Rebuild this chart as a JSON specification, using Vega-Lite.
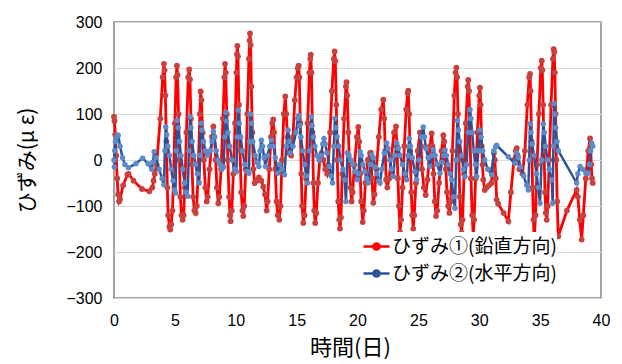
{
"$schema":"https://vega.github.io/schema/vega-lite/v6.json",
"width":487,"height":276,"autosize":"none",
"padding":{"left":114,"top":22,"right":21,"bottom":66},
"background":"white",
"config":{"view":{"stroke":"#868686","strokeWidth":1.5},"font":"Liberation Sans"},
"data":{"values":[
{"series":"鉛直","day":0,"strain":94},{"series":"鉛直","day":0.04,"strain":85},{"series":"鉛直","day":0.1,"strain":55},{"series":"鉛直","day":0.18,"strain":10},{"series":"鉛直","day":0.26,"strain":-40},{"series":"鉛直","day":0.34,"strain":-75},{"series":"鉛直","day":0.42,"strain":-90},{"series":"鉛直","day":0.5,"strain":-85},{"series":"鉛直","day":0.75,"strain":-55},{"series":"鉛直","day":1.1,"strain":-32},{"series":"鉛直","day":1.2,"strain":-30},{"series":"鉛直","day":1.6,"strain":-45},{"series":"鉛直","day":2.3,"strain":-63},{"series":"鉛直","day":2.9,"strain":-68},{"series":"鉛直","day":3.15,"strain":-60},{"series":"鉛直","day":3.25,"strain":-45},{"series":"鉛直","day":3.35,"strain":-30},{"series":"鉛直","day":3.5,"strain":-10},{"series":"鉛直","day":3.8,"strain":90},{"series":"鉛直","day":4.0,"strain":180},{"series":"鉛直","day":4.1,"strain":209},{"series":"鉛直","day":4.15,"strain":195},{"series":"鉛直","day":4.22,"strain":140},{"series":"鉛直","day":4.3,"strain":40},{"series":"鉛直","day":4.38,"strain":-60},{"series":"鉛直","day":4.45,"strain":-120},{"series":"鉛直","day":4.55,"strain":-145},{"series":"鉛直","day":4.62,"strain":-151},{"series":"鉛直","day":4.7,"strain":-140},{"series":"鉛直","day":4.8,"strain":-110},{"series":"鉛直","day":4.9,"strain":-30},{"series":"鉛直","day":5.0,"strain":80},{"series":"鉛直","day":5.1,"strain":180},{"series":"鉛直","day":5.17,"strain":205},{"series":"鉛直","day":5.22,"strain":185},{"series":"鉛直","day":5.3,"strain":100},{"series":"鉛直","day":5.38,"strain":0},{"series":"鉛直","day":5.45,"strain":-80},{"series":"鉛直","day":5.55,"strain":-120},{"series":"鉛直","day":5.64,"strain":-130},{"series":"鉛直","day":5.72,"strain":-120},{"series":"鉛直","day":5.82,"strain":-60},{"series":"鉛直","day":5.95,"strain":60},{"series":"鉛直","day":6.1,"strain":180},{"series":"鉛直","day":6.18,"strain":197},{"series":"鉛直","day":6.24,"strain":175},{"series":"鉛直","day":6.32,"strain":90},{"series":"鉛直","day":6.4,"strain":-10},{"series":"鉛直","day":6.5,"strain":-80},{"series":"鉛直","day":6.6,"strain":-110},{"series":"鉛直","day":6.71,"strain":-115},{"series":"鉛直","day":6.8,"strain":-100},{"series":"鉛直","day":6.92,"strain":-20},{"series":"鉛直","day":7.05,"strain":100},{"series":"鉛直","day":7.12,"strain":149},{"series":"鉛直","day":7.18,"strain":130},{"series":"鉛直","day":7.28,"strain":60},{"series":"鉛直","day":7.38,"strain":0},{"series":"鉛直","day":7.5,"strain":-60},{"series":"鉛直","day":7.61,"strain":-90},{"series":"鉛直","day":7.7,"strain":-80},{"series":"鉛直","day":7.85,"strain":-20},{"series":"鉛直","day":8.05,"strain":50},{"series":"鉛直","day":8.16,"strain":73},{"series":"鉛直","day":8.25,"strain":50},{"series":"鉛直","day":8.35,"strain":0},{"series":"鉛直","day":8.45,"strain":-60},{"series":"鉛直","day":8.57,"strain":-94},{"series":"鉛直","day":8.65,"strain":-80},{"series":"鉛直","day":8.8,"strain":-20},{"series":"鉛直","day":8.95,"strain":90},{"series":"鉛直","day":9.07,"strain":180},{"series":"鉛直","day":9.12,"strain":209},{"series":"鉛直","day":9.18,"strain":190},{"series":"鉛直","day":9.26,"strain":100},{"series":"鉛直","day":9.35,"strain":0},{"series":"鉛直","day":9.45,"strain":-80},{"series":"鉛直","day":9.52,"strain":-120},{"series":"鉛直","day":9.58,"strain":-133},{"series":"鉛直","day":9.68,"strain":-110},{"series":"鉛直","day":9.8,"strain":-30},{"series":"鉛直","day":9.95,"strain":80},{"series":"鉛直","day":10.05,"strain":190},{"series":"鉛直","day":10.1,"strain":230},{"series":"鉛直","day":10.13,"strain":248},{"series":"鉛直","day":10.18,"strain":225},{"series":"鉛直","day":10.26,"strain":120},{"series":"鉛直","day":10.35,"strain":20},{"series":"鉛直","day":10.45,"strain":-70},{"series":"鉛直","day":10.55,"strain":-110},{"series":"鉛直","day":10.62,"strain":-122},{"series":"鉛直","day":10.7,"strain":-100},{"series":"鉛直","day":10.82,"strain":-20},{"series":"鉛直","day":10.95,"strain":100},{"series":"鉛直","day":11.08,"strain":220},{"series":"鉛直","day":11.14,"strain":260},{"series":"鉛直","day":11.17,"strain":275},{"series":"鉛直","day":11.22,"strain":250},{"series":"鉛直","day":11.28,"strain":160},{"series":"鉛直","day":11.36,"strain":60},{"series":"鉛直","day":11.45,"strain":-20},{"series":"鉛直","day":11.55,"strain":-50},{"series":"鉛直","day":11.72,"strain":-45},{"series":"鉛直","day":11.9,"strain":-38},{"series":"鉛直","day":12.1,"strain":-45},{"series":"鉛直","day":12.26,"strain":-58},{"series":"鉛直","day":12.4,"strain":-75},{"series":"鉛直","day":12.54,"strain":-110},{"series":"鉛直","day":12.62,"strain":-90},{"series":"鉛直","day":12.75,"strain":-20},{"series":"鉛直","day":12.9,"strain":50},{"series":"鉛直","day":13.0,"strain":80},{"series":"鉛直","day":13.08,"strain":88},{"series":"鉛直","day":13.15,"strain":60},{"series":"鉛直","day":13.25,"strain":-20},{"series":"鉛直","day":13.35,"strain":-90},{"series":"鉛直","day":13.45,"strain":-120},{"series":"鉛直","day":13.58,"strain":-130},{"series":"鉛直","day":13.68,"strain":-100},{"series":"鉛直","day":13.8,"strain":0},{"series":"鉛直","day":13.95,"strain":100},{"series":"鉛直","day":14.07,"strain":138},{"series":"鉛直","day":14.15,"strain":100},{"series":"鉛直","day":14.25,"strain":50},{"series":"鉛直","day":14.4,"strain":15},{"series":"鉛直","day":14.55,"strain":10},{"series":"鉛直","day":14.7,"strain":50},{"series":"鉛直","day":14.85,"strain":130},{"series":"鉛直","day":15.0,"strain":180},{"series":"鉛直","day":15.1,"strain":200},{"series":"鉛直","day":15.17,"strain":205},{"series":"鉛直","day":15.22,"strain":180},{"series":"鉛直","day":15.3,"strain":80},{"series":"鉛直","day":15.38,"strain":-30},{"series":"鉛直","day":15.45,"strain":-100},{"series":"鉛直","day":15.55,"strain":-137},{"series":"鉛直","day":15.65,"strain":-120},{"series":"鉛直","day":15.78,"strain":-40},{"series":"鉛直","day":15.9,"strain":80},{"series":"鉛直","day":16.05,"strain":190},{"series":"鉛直","day":16.12,"strain":220},{"series":"鉛直","day":16.16,"strain":229},{"series":"鉛直","day":16.22,"strain":190},{"series":"鉛直","day":16.3,"strain":60},{"series":"鉛直","day":16.38,"strain":-50},{"series":"鉛直","day":16.45,"strain":-110},{"series":"鉛直","day":16.53,"strain":-137},{"series":"鉛直","day":16.62,"strain":-115},{"series":"鉛直","day":16.75,"strain":-50},{"series":"鉛直","day":16.9,"strain":0},{"series":"鉛直","day":17.05,"strain":15},{"series":"鉛直","day":17.2,"strain":0},{"series":"鉛直","day":17.35,"strain":-20},{"series":"鉛直","day":17.5,"strain":-30},{"series":"鉛直","day":17.6,"strain":-10},{"series":"鉛直","day":17.75,"strain":60},{"series":"鉛直","day":17.9,"strain":150},{"series":"鉛直","day":18.05,"strain":220},{"series":"鉛直","day":18.12,"strain":236},{"series":"鉛直","day":18.18,"strain":215},{"series":"鉛直","day":18.26,"strain":120},{"series":"鉛直","day":18.34,"strain":0},{"series":"鉛直","day":18.42,"strain":-90},{"series":"鉛直","day":18.5,"strain":-130},{"series":"鉛直","day":18.56,"strain":-149},{"series":"鉛直","day":18.64,"strain":-125},{"series":"鉛直","day":18.75,"strain":-30},{"series":"鉛直","day":18.9,"strain":90},{"series":"鉛直","day":19.05,"strain":160},{"series":"鉛直","day":19.1,"strain":169},{"series":"鉛直","day":19.16,"strain":140},{"series":"鉛直","day":19.25,"strain":60},{"series":"鉛直","day":19.33,"strain":0},{"series":"鉛直","day":19.42,"strain":-60},{"series":"鉛直","day":19.52,"strain":-90},{"series":"鉛直","day":19.6,"strain":-70},{"series":"鉛直","day":19.75,"strain":-10},{"series":"鉛直","day":19.95,"strain":50},{"series":"鉛直","day":20.07,"strain":72},{"series":"鉛直","day":20.14,"strain":40},{"series":"鉛直","day":20.22,"strain":-30},{"series":"鉛直","day":20.3,"strain":-90},{"series":"鉛直","day":20.43,"strain":-135},{"series":"鉛直","day":20.52,"strain":-110},{"series":"鉛直","day":20.65,"strain":-50},{"series":"鉛直","day":20.85,"strain":0},{"series":"鉛直","day":21.03,"strain":15},{"series":"鉛直","day":21.1,"strain":16},{"series":"鉛直","day":21.18,"strain":-40},{"series":"鉛直","day":21.3,"strain":-93},{"series":"鉛直","day":21.4,"strain":-75},{"series":"鉛直","day":21.55,"strain":-20},{"series":"鉛直","day":21.75,"strain":50},{"series":"鉛直","day":21.95,"strain":110},{"series":"鉛直","day":22.12,"strain":131},{"series":"鉛直","day":22.2,"strain":90},{"series":"鉛直","day":22.28,"strain":20},{"series":"鉛直","day":22.35,"strain":-43},{"series":"鉛直","day":22.45,"strain":-60},{"series":"鉛直","day":22.6,"strain":-40},{"series":"鉛直","day":22.8,"strain":10},{"series":"鉛直","day":23.0,"strain":60},{"series":"鉛直","day":23.16,"strain":73},{"series":"鉛直","day":23.24,"strain":30},{"series":"鉛直","day":23.32,"strain":-40},{"series":"鉛直","day":23.4,"strain":-100},{"series":"鉛直","day":23.49,"strain":-157},{"series":"鉛直","day":23.58,"strain":-130},{"series":"鉛直","day":23.7,"strain":-60},{"series":"鉛直","day":23.85,"strain":30},{"series":"鉛直","day":24.0,"strain":110},{"series":"鉛直","day":24.12,"strain":145},{"series":"鉛直","day":24.17,"strain":151},{"series":"鉛直","day":24.24,"strain":100},{"series":"鉛直","day":24.32,"strain":20},{"series":"鉛直","day":24.42,"strain":-70},{"series":"鉛直","day":24.5,"strain":-120},{"series":"鉛直","day":24.58,"strain":-149},{"series":"鉛直","day":24.66,"strain":-120},{"series":"鉛直","day":24.8,"strain":-50},{"series":"鉛直","day":24.95,"strain":20},{"series":"鉛直","day":25.13,"strain":60},{"series":"鉛直","day":25.22,"strain":30},{"series":"鉛直","day":25.3,"strain":-20},{"series":"鉛直","day":25.45,"strain":-60},{"series":"鉛直","day":25.6,"strain":-76},{"series":"鉛直","day":25.75,"strain":-43},{"series":"鉛直","day":25.95,"strain":30},{"series":"鉛直","day":26.09,"strain":58},{"series":"鉛直","day":26.16,"strain":30},{"series":"鉛直","day":26.25,"strain":-30},{"series":"鉛直","day":26.35,"strain":-90},{"series":"鉛直","day":26.45,"strain":-122},{"series":"鉛直","day":26.55,"strain":-110},{"series":"鉛直","day":26.7,"strain":-50},{"series":"鉛直","day":26.9,"strain":20},{"series":"鉛直","day":27.05,"strain":54},{"series":"鉛直","day":27.13,"strain":40},{"series":"鉛直","day":27.25,"strain":-20},{"series":"鉛直","day":27.35,"strain":-70},{"series":"鉛直","day":27.45,"strain":-100},{"series":"鉛直","day":27.55,"strain":-115},{"series":"鉛直","day":27.65,"strain":-90},{"series":"鉛直","day":27.8,"strain":20},{"series":"鉛直","day":27.95,"strain":140},{"series":"鉛直","day":28.05,"strain":190},{"series":"鉛直","day":28.12,"strain":201},{"series":"鉛直","day":28.18,"strain":180},{"series":"鉛直","day":28.25,"strain":100},{"series":"鉛直","day":28.33,"strain":0},{"series":"鉛直","day":28.4,"strain":-80},{"series":"鉛直","day":28.48,"strain":-140},{"series":"鉛直","day":28.55,"strain":-158},{"series":"鉛直","day":28.63,"strain":-130},{"series":"鉛直","day":28.75,"strain":-30},{"series":"鉛直","day":28.9,"strain":80},{"series":"鉛直","day":29.05,"strain":160},{"series":"鉛直","day":29.1,"strain":174},{"series":"鉛直","day":29.16,"strain":150},{"series":"鉛直","day":29.24,"strain":60},{"series":"鉛直","day":29.32,"strain":-40},{"series":"鉛直","day":29.42,"strain":-120},{"series":"鉛直","day":29.51,"strain":-166},{"series":"鉛直","day":29.58,"strain":-130},{"series":"鉛直","day":29.7,"strain":-40},{"series":"鉛直","day":29.85,"strain":60},{"series":"鉛直","day":30.0,"strain":140},{"series":"鉛直","day":30.06,"strain":157},{"series":"鉛直","day":30.12,"strain":120},{"series":"鉛直","day":30.2,"strain":30},{"series":"鉛直","day":30.27,"strain":-10},{"series":"鉛直","day":30.33,"strain":-43},{"series":"鉛直","day":30.45,"strain":-65},{"series":"鉛直","day":30.6,"strain":-60},{"series":"鉛直","day":30.8,"strain":-55},{"series":"鉛直","day":31.0,"strain":-50},{"series":"鉛直","day":31.1,"strain":-20},{"series":"鉛直","day":31.2,"strain":15},{"series":"鉛直","day":31.28,"strain":0},{"series":"鉛直","day":31.36,"strain":-40},{"series":"鉛直","day":31.43,"strain":-86},{"series":"鉛直","day":31.55,"strain":-95},{"series":"鉛直","day":32.0,"strain":-115},{"series":"鉛直","day":32.39,"strain":-133},{"series":"鉛直","day":32.6,"strain":-70},{"series":"鉛直","day":32.85,"strain":0},{"series":"鉛直","day":33.0,"strain":20},{"series":"鉛直","day":33.08,"strain":26},{"series":"鉛直","day":33.15,"strain":10},{"series":"鉛直","day":33.3,"strain":-20},{"series":"鉛直","day":33.55,"strain":-30},{"series":"鉛直","day":33.75,"strain":20},{"series":"鉛直","day":33.95,"strain":120},{"series":"鉛直","day":34.1,"strain":180},{"series":"鉛直","day":34.17,"strain":187},{"series":"鉛直","day":34.22,"strain":150},{"series":"鉛直","day":34.3,"strain":40},{"series":"鉛直","day":34.38,"strain":-60},{"series":"鉛直","day":34.45,"strain":-130},{"series":"鉛直","day":34.52,"strain":-173},{"series":"鉛直","day":34.62,"strain":-120},{"series":"鉛直","day":34.75,"strain":-10},{"series":"鉛直","day":34.9,"strain":100},{"series":"鉛直","day":35.05,"strain":200},{"series":"鉛直","day":35.13,"strain":216},{"series":"鉛直","day":35.18,"strain":195},{"series":"鉛直","day":35.25,"strain":120},{"series":"鉛直","day":35.32,"strain":20},{"series":"鉛直","day":35.4,"strain":-70},{"series":"鉛直","day":35.47,"strain":-115},{"series":"鉛直","day":35.54,"strain":-130},{"series":"鉛直","day":35.62,"strain":-100},{"series":"鉛直","day":35.75,"strain":0},{"series":"鉛直","day":35.9,"strain":120},{"series":"鉛直","day":36.05,"strain":220},{"series":"鉛直","day":36.11,"strain":241},{"series":"鉛直","day":36.16,"strain":235},{"series":"鉛直","day":36.21,"strain":190},{"series":"鉛直","day":36.27,"strain":100},{"series":"鉛直","day":36.33,"strain":0},{"series":"鉛直","day":36.4,"strain":-90},{"series":"鉛直","day":36.49,"strain":-166},{"series":"鉛直","day":37.2,"strain":-110},{"series":"鉛直","day":38.0,"strain":-65},{"series":"鉛直","day":38.1,"strain":-80},{"series":"鉛直","day":38.25,"strain":-130},{"series":"鉛直","day":38.41,"strain":-173},{"series":"鉛直","day":38.55,"strain":-120},{"series":"鉛直","day":38.75,"strain":-40},{"series":"鉛直","day":38.95,"strain":20},{"series":"鉛直","day":39.1,"strain":47},{"series":"鉛直","day":39.15,"strain":30},{"series":"鉛直","day":39.2,"strain":-10},{"series":"鉛直","day":39.26,"strain":-40},{"series":"鉛直","day":39.32,"strain":-50},
{"series":"水平","day":0,"strain":0},{"series":"水平","day":0.03,"strain":-15},{"series":"水平","day":0.06,"strain":20},{"series":"水平","day":0.12,"strain":40},{"series":"水平","day":0.22,"strain":50},{"series":"水平","day":0.35,"strain":54},{"series":"水平","day":0.5,"strain":30},{"series":"水平","day":0.7,"strain":5},{"series":"水平","day":0.9,"strain":-10},{"series":"水平","day":1.18,"strain":-17},{"series":"水平","day":1.8,"strain":-8},{"series":"水平","day":2.35,"strain":4},{"series":"水平","day":2.8,"strain":-8},{"series":"水平","day":3.1,"strain":-20},{"series":"水平","day":3.2,"strain":-5},{"series":"水平","day":3.3,"strain":18},{"series":"水平","day":3.45,"strain":5},{"series":"水平","day":3.7,"strain":-20},{"series":"水平","day":3.95,"strain":-40},{"series":"水平","day":4.1,"strain":-54},{"series":"水平","day":4.18,"strain":20},{"series":"水平","day":4.25,"strain":72},{"series":"水平","day":4.32,"strain":55},{"series":"水平","day":4.42,"strain":30},{"series":"水平","day":4.55,"strain":10},{"series":"水平","day":4.7,"strain":-20},{"series":"水平","day":4.85,"strain":-45},{"series":"水平","day":4.98,"strain":-65},{"series":"水平","day":5.05,"strain":-72},{"series":"水平","day":5.12,"strain":20},{"series":"水平","day":5.2,"strain":86},{"series":"水平","day":5.28,"strain":70},{"series":"水平","day":5.38,"strain":40},{"series":"水平","day":5.5,"strain":10},{"series":"水平","day":5.65,"strain":-20},{"series":"水平","day":5.8,"strain":-50},{"series":"水平","day":5.95,"strain":-70},{"series":"水平","day":6.05,"strain":-79},{"series":"水平","day":6.15,"strain":20},{"series":"水平","day":6.25,"strain":94},{"series":"水平","day":6.32,"strain":70},{"series":"水平","day":6.42,"strain":40},{"series":"水平","day":6.55,"strain":10},{"series":"水平","day":6.7,"strain":-10},{"series":"水平","day":6.85,"strain":-30},{"series":"水平","day":7.0,"strain":-50},{"series":"水平","day":7.08,"strain":10},{"series":"水平","day":7.15,"strain":80},{"series":"水平","day":7.22,"strain":65},{"series":"水平","day":7.35,"strain":40},{"series":"水平","day":7.5,"strain":20},{"series":"水平","day":7.7,"strain":10},{"series":"水平","day":7.9,"strain":20},{"series":"水平","day":8.05,"strain":40},{"series":"水平","day":8.16,"strain":62},{"series":"水平","day":8.25,"strain":50},{"series":"水平","day":8.4,"strain":20},{"series":"水平","day":8.55,"strain":0},{"series":"水平","day":8.7,"strain":-10},{"series":"水平","day":8.85,"strain":-20},{"series":"水平","day":9.0,"strain":-15},{"series":"水平","day":9.1,"strain":50},{"series":"水平","day":9.18,"strain":104},{"series":"水平","day":9.25,"strain":85},{"series":"水平","day":9.35,"strain":60},{"series":"水平","day":9.5,"strain":30},{"series":"水平","day":9.7,"strain":0},{"series":"水平","day":9.9,"strain":-20},{"series":"水平","day":10.05,"strain":-25},{"series":"水平","day":10.12,"strain":50},{"series":"水平","day":10.2,"strain":108},{"series":"水平","day":10.28,"strain":80},{"series":"水平","day":10.4,"strain":50},{"series":"水平","day":10.55,"strain":20},{"series":"水平","day":10.75,"strain":-10},{"series":"水平","day":10.95,"strain":-25},{"series":"水平","day":11.08,"strain":-29},{"series":"水平","day":11.14,"strain":40},{"series":"水平","day":11.2,"strain":100},{"series":"水平","day":11.28,"strain":80},{"series":"水平","day":11.4,"strain":40},{"series":"水平","day":11.6,"strain":10},{"series":"水平","day":11.75,"strain":-5},{"series":"水平","day":11.9,"strain":-14},{"series":"水平","day":12.0,"strain":20},{"series":"水平","day":12.1,"strain":43},{"series":"水平","day":12.2,"strain":30},{"series":"水平","day":12.33,"strain":5},{"series":"水平","day":12.45,"strain":-14},{"series":"水平","day":12.6,"strain":10},{"series":"水平","day":12.8,"strain":30},{"series":"水平","day":12.95,"strain":43},{"series":"水平","day":13.1,"strain":30},{"series":"水平","day":13.25,"strain":5},{"series":"水平","day":13.45,"strain":-29},{"series":"水平","day":13.6,"strain":-10},{"series":"水平","day":13.8,"strain":-20},{"series":"水平","day":14.0,"strain":-32},{"series":"水平","day":14.15,"strain":30},{"series":"水平","day":14.3,"strain":65},{"series":"水平","day":14.4,"strain":40},{"series":"水平","day":14.5,"strain":15},{"series":"水平","day":14.7,"strain":30},{"series":"水平","day":14.95,"strain":60},{"series":"水平","day":15.1,"strain":90},{"series":"水平","day":15.17,"strain":97},{"series":"水平","day":15.25,"strain":75},{"series":"水平","day":15.35,"strain":50},{"series":"水平","day":15.5,"strain":20},{"series":"水平","day":15.65,"strain":-10},{"series":"水平","day":15.8,"strain":-35},{"series":"水平","day":15.9,"strain":-50},{"series":"水平","day":16.05,"strain":20},{"series":"水平","day":16.2,"strain":94},{"series":"水平","day":16.27,"strain":75},{"series":"水平","day":16.38,"strain":50},{"series":"水平","day":16.5,"strain":30},{"series":"水平","day":16.65,"strain":10},{"series":"水平","day":16.85,"strain":0},{"series":"水平","day":17.0,"strain":10},{"series":"水平","day":17.15,"strain":35},{"series":"水平","day":17.25,"strain":47},{"series":"水平","day":17.35,"strain":35},{"series":"水平","day":17.5,"strain":15},{"series":"水平","day":17.7,"strain":-14},{"series":"水平","day":17.85,"strain":-35},{"series":"水平","day":17.95,"strain":-50},{"series":"水平","day":18.05,"strain":30},{"series":"水平","day":18.15,"strain":90},{"series":"水平","day":18.22,"strain":70},{"series":"水平","day":18.32,"strain":50},{"series":"水平","day":18.45,"strain":30},{"series":"水平","day":18.6,"strain":0},{"series":"水平","day":18.8,"strain":-20},{"series":"水平","day":18.95,"strain":-43},{"series":"水平","day":19.05,"strain":-90},{"series":"水平","day":19.18,"strain":15},{"series":"水平","day":19.3,"strain":10},{"series":"水平","day":19.45,"strain":0},{"series":"水平","day":19.6,"strain":-10},{"series":"水平","day":19.8,"strain":-25},{"series":"水平","day":20.0,"strain":-43},{"series":"水平","day":20.07,"strain":-30},{"series":"水平","day":20.21,"strain":18},{"series":"水平","day":20.3,"strain":10},{"series":"水平","day":20.45,"strain":-10},{"series":"水平","day":20.6,"strain":-25},{"series":"水平","day":20.75,"strain":-40},{"series":"水平","day":20.89,"strain":-50},{"series":"水平","day":21.05,"strain":-10},{"series":"水平","day":21.17,"strain":11},{"series":"水平","day":21.3,"strain":5},{"series":"水平","day":21.45,"strain":-15},{"series":"水平","day":21.6,"strain":-30},{"series":"水平","day":21.75,"strain":-45},{"series":"水平","day":21.85,"strain":-50},{"series":"水平","day":22.0,"strain":-20},{"series":"水平","day":22.2,"strain":15},{"series":"水平","day":22.4,"strain":37},{"series":"水平","day":22.5,"strain":25},{"series":"水平","day":22.65,"strain":0},{"series":"水平","day":22.8,"strain":-20},{"series":"水平","day":22.94,"strain":-36},{"series":"水平","day":23.08,"strain":10},{"series":"水平","day":23.22,"strain":37},{"series":"水平","day":23.35,"strain":25},{"series":"水平","day":23.5,"strain":10},{"series":"水平","day":23.7,"strain":-10},{"series":"水平","day":23.9,"strain":-30},{"series":"水平","day":24.04,"strain":-43},{"series":"水平","day":24.15,"strain":10},{"series":"水平","day":24.25,"strain":47},{"series":"水平","day":24.35,"strain":30},{"series":"水平","day":24.5,"strain":5},{"series":"水平","day":24.7,"strain":-25},{"series":"水平","day":24.86,"strain":-43},{"series":"水平","day":25.05,"strain":0},{"series":"水平","day":25.25,"strain":50},{"series":"水平","day":25.4,"strain":72},{"series":"水平","day":25.5,"strain":50},{"series":"水平","day":25.62,"strain":25},{"series":"水平","day":25.8,"strain":5},{"series":"水平","day":25.95,"strain":-14},{"series":"水平","day":26.1,"strain":10},{"series":"水平","day":26.23,"strain":22},{"series":"水平","day":26.38,"strain":10},{"series":"水平","day":26.55,"strain":-10},{"series":"水平","day":26.78,"strain":-29},{"series":"水平","day":26.95,"strain":-5},{"series":"水平","day":27.08,"strain":10},{"series":"水平","day":27.19,"strain":22},{"series":"水平","day":27.3,"strain":10},{"series":"水平","day":27.45,"strain":-10},{"series":"水平","day":27.6,"strain":-30},{"series":"水平","day":27.74,"strain":-43},{"series":"水平","day":27.88,"strain":-80},{"series":"水平","day":28.01,"strain":-105},{"series":"水平","day":28.1,"strain":0},{"series":"水平","day":28.2,"strain":86},{"series":"水平","day":28.28,"strain":65},{"series":"水平","day":28.4,"strain":40},{"series":"水平","day":28.55,"strain":10},{"series":"水平","day":28.7,"strain":-20},{"series":"水平","day":28.83,"strain":-36},{"series":"水平","day":28.95,"strain":-10},{"series":"水平","day":29.1,"strain":60},{"series":"水平","day":29.24,"strain":110},{"series":"水平","day":29.32,"strain":90},{"series":"水平","day":29.42,"strain":60},{"series":"水平","day":29.55,"strain":20},{"series":"水平","day":29.68,"strain":-10},{"series":"水平","day":29.79,"strain":-36},{"series":"水平","day":29.92,"strain":20},{"series":"水平","day":30.06,"strain":65},{"series":"水平","day":30.15,"strain":50},{"series":"水平","day":30.28,"strain":20},{"series":"水平","day":30.45,"strain":0},{"series":"水平","day":30.7,"strain":-20},{"series":"水平","day":31.02,"strain":-32},{"series":"水平","day":31.2,"strain":20},{"series":"水平","day":31.35,"strain":29},{"series":"水平","day":31.43,"strain":32},{"series":"水平","day":32.39,"strain":7},{"series":"水平","day":32.94,"strain":-7},{"series":"水平","day":33.08,"strain":15},{"series":"水平","day":33.2,"strain":5},{"series":"水平","day":33.4,"strain":-15},{"series":"水平","day":33.65,"strain":-35},{"series":"水平","day":33.9,"strain":-55},{"series":"水平","day":34.03,"strain":-65},{"series":"水平","day":34.1,"strain":0},{"series":"水平","day":34.17,"strain":79},{"series":"水平","day":34.25,"strain":60},{"series":"水平","day":34.35,"strain":35},{"series":"水平","day":34.5,"strain":10},{"series":"水平","day":34.7,"strain":-30},{"series":"水平","day":34.85,"strain":-60},{"series":"水平","day":34.99,"strain":-94},{"series":"水平","day":35.12,"strain":0},{"series":"水平","day":35.26,"strain":79},{"series":"水平","day":35.34,"strain":60},{"series":"水平","day":35.45,"strain":30},{"series":"水平","day":35.6,"strain":0},{"series":"水平","day":35.75,"strain":-20},{"series":"水平","day":35.95,"strain":-43},{"series":"水平","day":36.03,"strain":-94},{"series":"水平","day":36.09,"strain":30},{"series":"水平","day":36.14,"strain":123},{"series":"水平","day":36.2,"strain":100},{"series":"水平","day":36.28,"strain":70},{"series":"水平","day":36.38,"strain":40},{"series":"水平","day":36.5,"strain":20},{"series":"水平","day":38.0,"strain":-50},{"series":"水平","day":38.1,"strain":-30},{"series":"水平","day":38.28,"strain":-14},{"series":"水平","day":38.5,"strain":-20},{"series":"水平","day":38.75,"strain":-28},{"series":"水平","day":38.96,"strain":-29},{"series":"水平","day":39.05,"strain":-10},{"series":"水平","day":39.15,"strain":20},{"series":"水平","day":39.24,"strain":37},{"series":"水平","day":39.32,"strain":30}
]},
"encoding":{
 "x":{"field":"day","type":"quantitative","scale":{"domain":[0,40],"nice":false,"zero":false},
  "axis":{"values":[0,5,10,15,20,25,30,35,40],"grid":false,"ticks":false,"domain":false,"labelFontSize":16,"labelPadding":14,"labelColor":"#000","labelFlush":false,"title":"時間(日)","titleFont":"Noto Sans CJK JP","titleFontSize":22,"titleFontWeight":"normal","titleColor":"#000","titlePadding":9,"titleX":236}},
 "y":{"field":"strain","type":"quantitative","scale":{"domain":[-300,300],"nice":false},
  "axis":{"values":[-300,-200,-100,0,100,200,300],"grid":true,"gridColor":"#d9d9d9","gridWidth":1.2,"ticks":false,"domain":false,"labelFontSize":16,"labelPadding":12,"labelColor":"#000","title":"ひずみ(μ ε)","titleFont":"Noto Sans CJK JP","titleFontSize":21,"titleFontWeight":"normal","titleColor":"#000","titlePadding":28}}
},
"layer":[
 {"transform":[{"filter":"datum.series === '鉛直'"}],"mark":{"type":"line","strokeWidth":2.8},
  "encoding":{"stroke":{"field":"series","type":"nominal","scale":{"domain":["鉛直","水平"],"range":["#ff0000","#2a5298"]},
   "legend":{"orient":"none","legendX":248,"legendY":210,"title":null,"fillColor":"white","padding":0,"symbolType":"M-1,0H1M-0.24,0A0.24,0.24 0 1,1 0.24,0A0.24,0.24 0 1,1 -0.24,0","symbolSize":676,"symbolStrokeWidth":2.5,"labelFont":"Noto Sans CJK JP","labelFontSize":19,"labelColor":"#000","rowPadding":2,"labelOffset":1,"labelLimit":300,
    "labelExpr":"datum.value === '鉛直' ? 'ひずみ①(鉛直方向)' : 'ひずみ②(水平方向)'",
    "encode":{"symbols":{"update":{"fill":{"scale":"fill","field":"value"}}}}}}}},
 {"transform":[{"filter":"datum.series === '鉛直'"}],"mark":{"type":"circle","size":34,"opacity":1},
  "encoding":{"fill":{"field":"series","type":"nominal","scale":{"domain":["鉛直","水平"],"range":["#c8413f","#5b8bc8"]},"legend":null}}},
 {"transform":[{"filter":"datum.series === '水平'"}],"mark":{"type":"line","strokeWidth":2.5},
  "encoding":{"stroke":{"field":"series","type":"nominal","scale":{"domain":["鉛直","水平"],"range":["#ff0000","#2a5298"]},
   "legend":{"orient":"none","legendX":248,"legendY":210,"title":null,"fillColor":"white","padding":0,"symbolType":"M-1,0H1M-0.24,0A0.24,0.24 0 1,1 0.24,0A0.24,0.24 0 1,1 -0.24,0","symbolSize":676,"symbolStrokeWidth":2.5,"labelFont":"Noto Sans CJK JP","labelFontSize":19,"labelColor":"#000","rowPadding":2,"labelOffset":1,"labelLimit":300,
    "labelExpr":"datum.value === '鉛直' ? 'ひずみ①(鉛直方向)' : 'ひずみ②(水平方向)'",
    "encode":{"symbols":{"update":{"fill":{"scale":"fill","field":"value"}}}}}}}},
 {"transform":[{"filter":"datum.series === '水平'"}],"mark":{"type":"circle","size":30,"opacity":1},
  "encoding":{"fill":{"field":"series","type":"nominal","scale":{"domain":["鉛直","水平"],"range":["#c8413f","#5b8bc8"]},"legend":null}}}
]
}
